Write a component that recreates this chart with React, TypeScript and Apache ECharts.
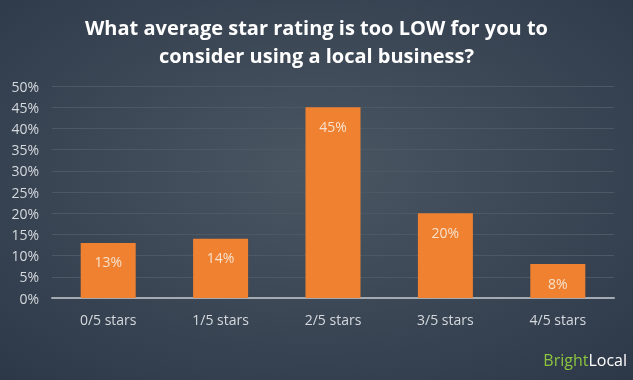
import React, { useEffect, useRef } from "react";
import * as echarts from "echarts";

const categories = ["0/5 stars", "1/5 stars", "2/5 stars", "3/5 stars", "4/5 stars"];
const values = [13, 14, 45, 20, 8];
const titleText = "What average star rating is too LOW for you to\nconsider using a local business?";

export default function App() {
  const ref = useRef<HTMLDivElement>(null);
  useEffect(() => {
    const chart = echarts.init(ref.current!, null, { renderer: "svg" });
    chart.setOption({
      animation: false,
      backgroundColor: {
        type: "radial",
        x: 0.5,
        y: 0.45,
        r: 0.75,
        colorStops: [
          { offset: 0, color: "#4b5663" },
          { offset: 1, color: "#2c3848" },
        ],
      },
      title: {
        text: titleText,
        left: "center",
        top: 8,
        textStyle: {
          color: "#ffffff",
          fontFamily: "Open Sans",
          fontWeight: "bold",
          fontSize: 20,
          lineHeight: 28,
        },
      },
      graphic: [
        {
          type: "text",
          right: 6,
          top: 352,
          style: {
            text: "{a|Bright}{b|Local}",
            rich: {
              a: { fill: "#8cc63e", fontSize: 16, fontFamily: "Open Sans" },
              b: { fill: "#ffffff", fontSize: 16, fontFamily: "Open Sans" },
            },
          },
        },
      ],
      grid: { left: 52, right: 19, top: 86, bottom: 82 },
      xAxis: {
        type: "category",
        data: categories,
        axisLine: { lineStyle: { color: "#a3aab2", width: 2 } },
        axisTick: { show: false },
        axisLabel: {
          color: "#d5d9de",
          fontSize: 14,
          fontFamily: "Open Sans",
          margin: 14,
        },
      },
      yAxis: {
        type: "value",
        min: 0,
        max: 50,
        interval: 5,
        axisLine: { show: false },
        axisTick: { show: false },
        axisLabel: {
          formatter: "{value}%",
          color: "#d5d9de",
          fontSize: 14,
          fontFamily: "Open Sans",
          margin: 13,
        },
        splitLine: { lineStyle: { color: "#4d5865", width: 1 } },
      },
      series: [
        {
          type: "bar",
          data: values,
          barWidth: 55,
          itemStyle: { color: "#ef8131" },
          label: {
            show: true,
            position: "insideTop",
            distance: 12,
            formatter: "{c}%",
            color: "#f7e1cc",
            fontSize: 14,
            fontFamily: "Open Sans",
          },
        },
      ],
    });
    return () => chart.dispose();
  }, []);
  return (
    <div
      ref={ref}
      style={{ position: "fixed", left: 0, top: 0, width: 633, height: 380 }}
    />
  );
}
